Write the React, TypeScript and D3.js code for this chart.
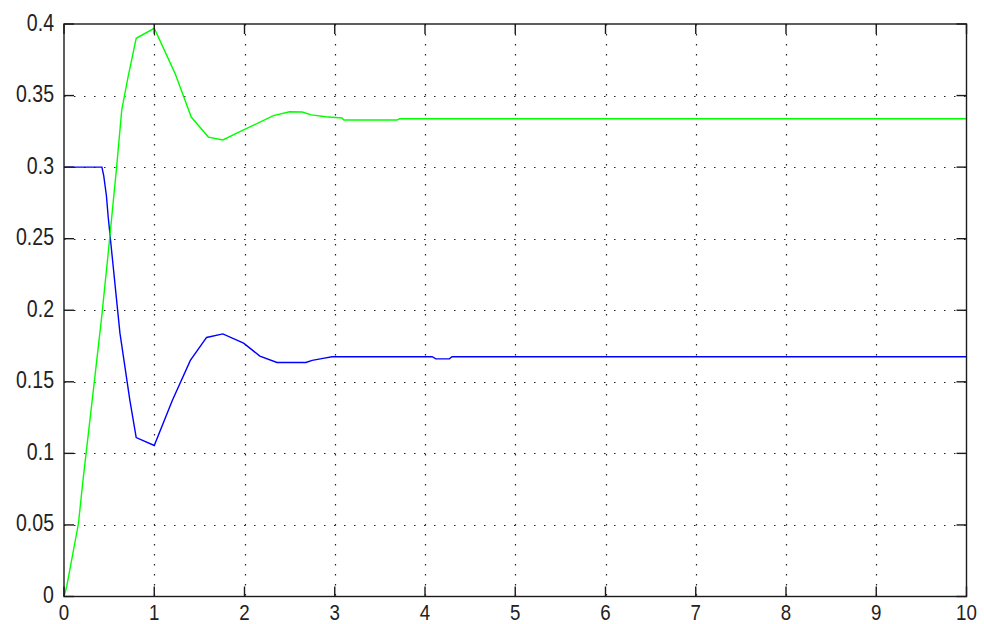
import React, { useEffect, useRef } from 'react'
import * as d3 from 'd3'

// blue trace (time, value)
const blueT = [0, 0.42, 0.44, 0.47, 0.49, 0.53, 0.62, 0.73, 0.8, 1.0, 1.2, 1.4, 1.58, 1.76, 1.99, 2.17, 2.36, 2.68, 2.75, 2.87, 2.97, 4.08, 4.12, 4.27, 4.3, 10]
const blueV = [0.3, 0.3, 0.294, 0.28, 0.265, 0.24, 0.184, 0.137, 0.111, 0.1055, 0.137, 0.165, 0.181, 0.1835, 0.177, 0.168, 0.1635, 0.1635, 0.165, 0.1664, 0.1675, 0.1675, 0.166, 0.166, 0.1675, 0.1675]

// green trace (time, value)
const greenT = [0, 0.03, 0.16, 0.21, 0.325, 0.417, 0.49, 0.583, 0.64, 0.71, 0.8, 1.0, 1.23, 1.41, 1.6, 1.76, 1.99, 2.32, 2.5, 2.64, 2.74, 2.9, 3.08, 3.1, 3.69, 3.72, 10]
const greenV = [0, 0.007, 0.051, 0.081, 0.144, 0.195, 0.24, 0.3, 0.34, 0.363, 0.39, 0.397, 0.3655, 0.335, 0.321, 0.319, 0.326, 0.336, 0.3387, 0.3385, 0.3365, 0.3352, 0.3343, 0.3329, 0.3329, 0.3338, 0.3338]

const xTicks = [0, 1, 2, 3, 4, 5, 6, 7, 8, 9, 10]
const yTicks = [0, 0.05, 0.1, 0.15, 0.2, 0.25, 0.3, 0.35, 0.4]

export default function App() {
  const svgRef = useRef<SVGSVGElement>(null)

  useEffect(() => {
    document.body.style.margin = '0'
    const svg = d3.select(svgRef.current)
    svg.selectAll('*').remove()

    const left = 64
    const right = 966.5
    const top = 24
    const bottom = 596.5
    const tickLen = 10

    const x = d3.scaleLinear().domain([0, 10]).range([left, right])
    const y = d3.scaleLinear().domain([0, 0.4]).range([bottom, top])

    svg.append('rect').attr('width', 984).attr('height', 624).attr('fill', '#fff')

    // dotted grid
    const grid = svg.append('g').attr('stroke', '#222').attr('stroke-width', 1.2).attr('stroke-dasharray', '1.5,8.5')
    xTicks.slice(1, -1).forEach((t) => {
      grid.append('line').attr('x1', Math.round(x(t)) + 0.5).attr('x2', Math.round(x(t)) + 0.5).attr('y1', top).attr('y2', bottom)
    })
    yTicks.slice(1, -1).forEach((t) => {
      grid.append('line').attr('y1', Math.round(y(t)) + 0.5).attr('y2', Math.round(y(t)) + 0.5).attr('x1', left).attr('x2', right)
    })

    const blueLine = d3.line<number>().x((_, i) => x(blueT[i])).y((d) => y(d))
    const greenLine = d3.line<number>().x((_, i) => x(greenT[i])).y((d) => y(d))

    svg.append('path').attr('d', blueLine(blueV)).attr('fill', 'none').attr('stroke', '#0000ff').attr('stroke-width', 1.4)
    svg.append('path').attr('d', greenLine(greenV)).attr('fill', 'none').attr('stroke', '#00ff00').attr('stroke-width', 1.4)

    const axes = svg.append('g').attr('stroke', '#1a1a1a').attr('stroke-width', 1.4)
    axes.append('rect').attr('x', left).attr('y', top).attr('width', right - left).attr('height', bottom - top).attr('fill', 'none')
    xTicks.forEach((t) => {
      axes.append('line').attr('x1', x(t)).attr('x2', x(t)).attr('y1', bottom).attr('y2', bottom - tickLen)
      axes.append('line').attr('x1', x(t)).attr('x2', x(t)).attr('y1', top).attr('y2', top + tickLen)
    })
    yTicks.forEach((t) => {
      axes.append('line').attr('y1', y(t)).attr('y2', y(t)).attr('x1', left).attr('x2', left + tickLen)
      axes.append('line').attr('y1', y(t)).attr('y2', y(t)).attr('x1', right).attr('x2', right - tickLen)
    })

    const font = '"Liberation Sans", Arial, sans-serif'
    svg
      .append('g')
      .selectAll('text')
      .data(yTicks)
      .enter()
      .append('text')
      .attr('transform', (d) => `translate(${left - 10},${y(d) + 6.5}) scale(0.85,1)`)
      .attr('text-anchor', 'end')
      .attr('font-family', font)
      .attr('font-size', 23)
      .attr('fill', '#222')
      .text((d) => String(d))

    svg
      .append('g')
      .selectAll('text')
      .data(xTicks)
      .enter()
      .append('text')
      .attr('transform', (d) => `translate(${x(d)},620) scale(0.85,1)`)
      .attr('text-anchor', 'middle')
      .attr('font-family', font)
      .attr('font-size', 22)
      .attr('fill', '#222')
      .text((d) => String(d))
  }, [])

  return <svg ref={svgRef} width={984} height={624} style={{ display: 'block' }}></svg>
}
